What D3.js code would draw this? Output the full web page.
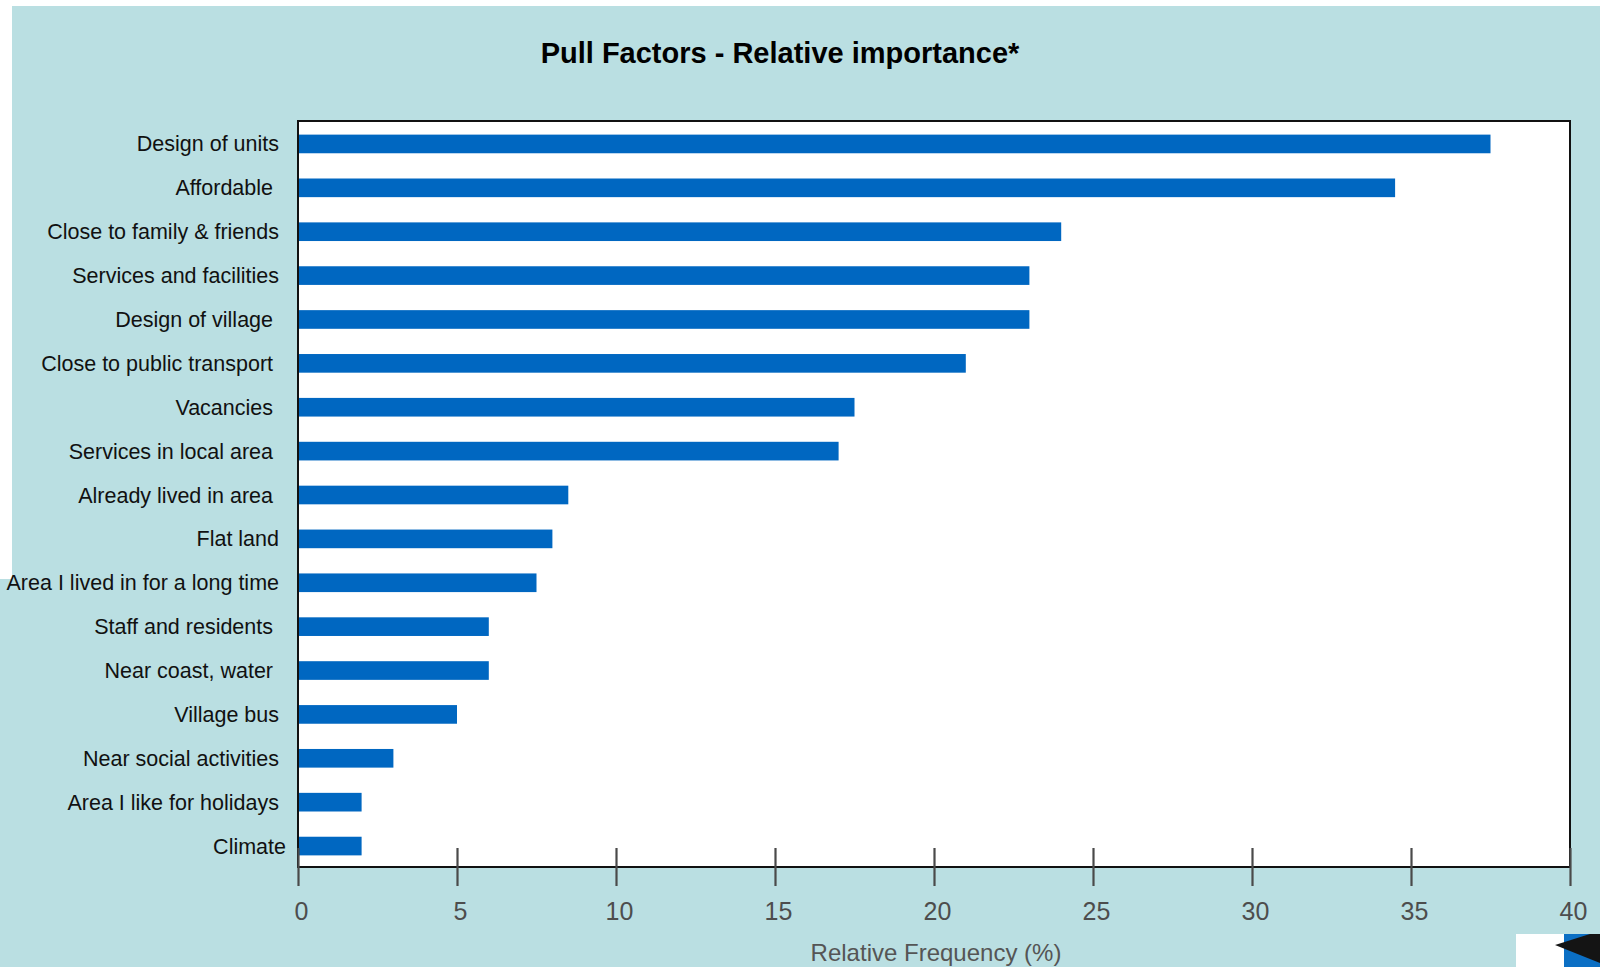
<!DOCTYPE html>
<html>
<head>
<meta charset="utf-8">
<script src="https://cdn.jsdelivr.net/npm/d3@7"></script>
<style>
  html, body { margin: 0; padding: 0; background: #ffffff; }
  svg { display: block; }
  text { font-family: Arial, "Liberation Sans", sans-serif; }
</style>
</head>
<body>
<svg id="chart" width="1600" height="967"></svg>
<script>
// Survey categories, top to bottom
const categories = [
  "Design of units",
  "Affordable ",
  "Close to family & friends",
  "Services and facilities",
  "Design of village ",
  "Close to public transport ",
  "Vacancies ",
  "Services in local area ",
  "Already lived in area ",
  "Flat land",
  "Area I lived in for a long time",
  "Staff and residents ",
  "Near coast, water ",
  "Village bus",
  "Near social activities",
  "Area I like for holidays",
  "Climate"
];

// Relative frequency (%) per category
const values = [37.5, 34.5, 24, 23, 23, 21, 17.5, 17, 8.5, 8, 7.5, 6, 6, 5, 3, 2, 2];

const xTicks = [0, 5, 10, 15, 20, 25, 30, 35, 40];

const titleText = "Pull Factors - Relative importance*";
const xTitle = "Relative Frequency (%)";

const data = categories.map((c, i) => ({ category: c, value: values[i] }));

const svg = d3.select("#chart");
const W = 1600, H = 967;

// Page background
svg.append("rect").attr("x", 0).attr("y", 0).attr("width", W).attr("height", H).attr("fill", "#ffffff");
svg.append("rect").attr("x", 0).attr("y", 6).attr("width", W).attr("height", H - 6).attr("fill", "#badfe2");
svg.append("rect").attr("x", 0).attr("y", 6).attr("width", 12).attr("height", 573).attr("fill", "#ffffff");

// Plot frame
const plot = { left: 298, right: 1570, top: 121, bottom: 867 };

const x = d3.scaleLinear().domain([0, 40]).range([plot.left, plot.right]);
const y = d3.scaleBand()
  .domain(categories)
  .range([plot.top + 1, plot.bottom + 1])
  .paddingInner(0.575)
  .paddingOuter(0.2875);

svg.append("rect")
  .attr("x", plot.left).attr("y", plot.top)
  .attr("width", plot.right - plot.left).attr("height", plot.bottom - plot.top)
  .attr("fill", "#ffffff");

// Bars
svg.append("g")
  .selectAll("rect")
  .data(data)
  .join("rect")
  .attr("x", x(0))
  .attr("y", d => y(d.category))
  .attr("width", d => x(d.value) - x(0))
  .attr("height", y.bandwidth())
  .attr("fill", "#0067c1");

// Frame border
svg.append("rect")
  .attr("x", plot.left).attr("y", plot.top)
  .attr("width", plot.right - plot.left).attr("height", plot.bottom - plot.top)
  .attr("fill", "none")
  .attr("stroke", "#111111")
  .attr("stroke-width", 2);

// X axis with ticks crossing the baseline
const xAxis = svg.append("g")
  .attr("transform", `translate(0,${plot.bottom})`)
  .call(d3.axisBottom(x).tickValues(xTicks).tickFormat(d3.format("d")).tickSize(19).tickPadding(0));
xAxis.select(".domain").remove();
xAxis.selectAll(".tick line")
  .attr("y1", -19).attr("y2", 19)
  .attr("stroke", "#4a4a4a")
  .attr("stroke-width", 2.2);
xAxis.selectAll(".tick text")
  .attr("y", 53)
  .attr("dy", 0)
  .attr("dx", 3)
  .attr("fill", "#4d4d4d")
  .style("font-size", "25px")
  .style("font-family", "Arial, 'Liberation Sans', sans-serif");

// Y axis category labels
const yAxis = svg.append("g")
  .attr("transform", `translate(${plot.left},0)`)
  .call(d3.axisLeft(y).tickSize(0).tickPadding(19));
yAxis.select(".domain").remove();
yAxis.selectAll(".tick text")
  .attr("fill", "#111111")
  .attr("dy", "0.35em")
  .attr("dx", d => d === "Climate" ? 7 : 0)
  .style("white-space", "pre")
  .style("font-size", "21.5px")
  .style("font-family", "Arial, 'Liberation Sans', sans-serif");

// Title
svg.append("text")
  .attr("x", 780).attr("y", 63)
  .attr("text-anchor", "middle")
  .attr("font-weight", "bold")
  .attr("font-size", 29)
  .attr("fill", "#000000")
  .text(titleText);

// X axis title
svg.append("text")
  .attr("x", 936).attr("y", 961)
  .attr("text-anchor", "middle")
  .attr("font-size", 24)
  .attr("fill", "#555555")
  .text(xTitle);

// Corner emblem
const logo = svg.append("g");
logo.append("rect").attr("x", 1516).attr("y", 934).attr("width", 84).attr("height", 33).attr("fill", "#ffffff");
logo.append("rect").attr("x", 1564).attr("y", 934).attr("width", 36).attr("height", 33).attr("fill", "#0b6fc4");
logo.append("polygon")
  .attr("points", "1555,945 1590,934 1600,934 1600,963")
  .attr("fill", "#141414");
</script>
</body>
</html>
